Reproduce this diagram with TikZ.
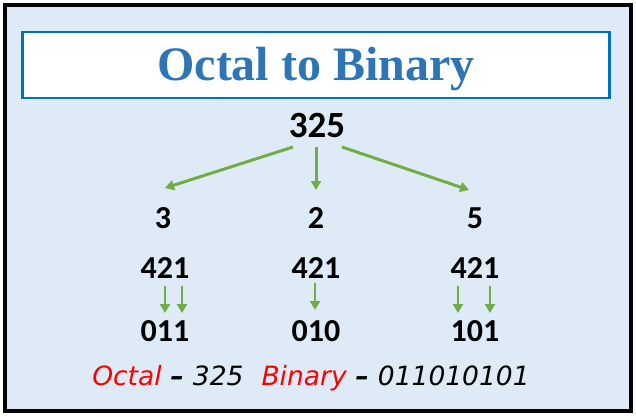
\documentclass[tikz,border=0pt]{standalone}
\usepackage{fontspec}
\setmainfont{Carlito}
\newfontfamily\titlefont{Liberation Serif}
\newfontfamily\handfont{DejaVu Sans}
\usetikzlibrary{arrows.meta}
\definecolor{bgblue}{HTML}{DEEAF6}
\definecolor{boxblue}{HTML}{0070C0}
\definecolor{titleblue}{HTML}{2E75B6}
\definecolor{arrgreen}{HTML}{70AD47}
\begin{document}
\begin{tikzpicture}[x=1pt,y=-1pt,
  num/.style={font=\bfseries\fontsize{32}{34}\selectfont, inner sep=0pt, anchor=base},
  big/.style={font=\bfseries\fontsize{37}{39}\selectfont, inner sep=0pt, anchor=base},
  garrow/.style={draw=arrgreen, line width=3pt, -{Triangle[length=9pt,width=10pt]}},
  sarrow/.style={draw=arrgreen, line width=2.5pt, -{Triangle[length=9pt,width=10pt]}}]
\useasboundingbox (0,0) rectangle (636,416);
\fill[white] (0,0) rectangle (636,416);
\draw[line width=4pt, fill=bgblue] (5,5) rectangle (631,411);
\node[draw=boxblue, line width=2.5pt, fill=white, minimum width=587pt, minimum height=66pt, inner sep=0pt] (title) at (316,65) {};
\node[font=\titlefont\bfseries\fontsize{48}{50}\selectfont, text=titleblue, inner sep=0pt, anchor=base] (tt) at (316,80) {Octal to Binary};
\node[big] (n325) at (317,137) {325};
\node[num] (d3) at (163,228) {3};
\node[num] (d2) at (316,228) {2};
\node[num] (d5) at (475,228) {5};
\node[num] (a421) at (165,278) {421};
\node[num] (b421) at (316,278) {421};
\node[num] (c421) at (475,278) {421};
\node[num] (a011) at (165,341) {011};
\node[num] (b010) at (316,341) {010};
\node[num] (c101) at (475,341) {101};
\coordinate (s1) at (293,147);
\coordinate (s2) at (316,147);
\coordinate (s3) at (342,147);
\coordinate (e1) at (165,188);
\coordinate (e2) at (316,190);
\coordinate (e3) at (469,190);
\draw[garrow] (s1) -- (e1);
\draw[garrow] (s2) -- (e2);
\draw[garrow] (s3) -- (e3);
\foreach \x/\n in {165/p1,182/p2,458/p5,490/p6}{
  \coordinate (\n a) at (\x,286);
  \coordinate (\n b) at (\x,313);
  \draw[sarrow] (\n a) -- (\n b);
}
\coordinate (p3a) at (315,283);
\coordinate (p3b) at (315,310);
\draw[sarrow] (p3a) -- (p3b);
\node[font=\handfont\itshape\fontsize{26.5}{28}\selectfont, inner sep=0pt, anchor=base] (foot) at (311,385)
  {\textcolor{red}{Octal}\hspace{9pt}\textbf{–}\hspace{9pt}325\hspace{18pt}\textcolor{red}{Binary}\hspace{9pt}\textbf{–}\hspace{9pt}011010101};
\end{tikzpicture}
\end{document}
